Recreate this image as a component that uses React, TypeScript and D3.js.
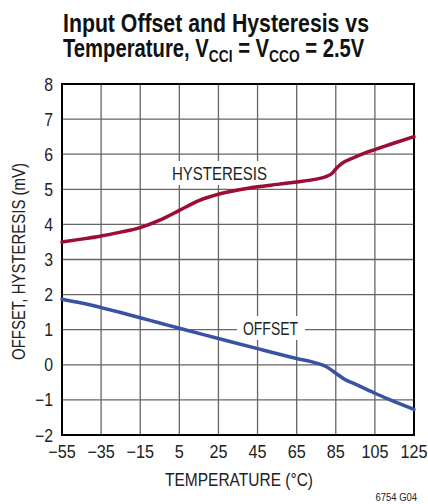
import React from "react";
import * as d3 from "d3";

const xTicks = [-55, -35, -15, 5, 25, 45, 65, 85, 105, 125];
const yTicks = [-2, -1, 0, 1, 2, 3, 4, 5, 6, 7, 8];

const hystTemps = [-55, -45, -35, -25, -15, -5, 5, 15, 25, 35, 45, 55, 65, 75, 80, 83, 85, 88, 95, 100, 105, 115, 125];
const hystValues = [3.5, 3.58, 3.67, 3.78, 3.91, 4.12, 4.4, 4.68, 4.86, 4.98, 5.07, 5.14, 5.21, 5.29, 5.36, 5.45, 5.58, 5.73, 5.92, 6.04, 6.13, 6.32, 6.5];

const offsetTemps = [-55, -45, -35, -25, -15, -5, 5, 25, 45, 65, 75, 80, 85, 90, 95, 105, 115, 125];
const offsetValues = [1.87, 1.76, 1.63, 1.49, 1.34, 1.19, 1.04, 0.75, 0.46, 0.18, 0.05, -0.05, -0.24, -0.43, -0.55, -0.81, -1.05, -1.27];

const FONT = "'Liberation Sans', Arial, sans-serif";

const fmt = (t: number) => (t < 0 ? "\u2212" + Math.abs(t) : String(t));

export default function App() {
  const W = 428, H = 504;
  const left = 62, right = 414, top = 84, bottom = 435;
  const x = d3.scaleLinear().domain([-55, 125]).range([left, right]);
  const y = d3.scaleLinear().domain([-2, 8]).range([bottom, top]);

  const line = d3.line<[number, number]>()
    .x(d => x(d[0]))
    .y(d => y(d[1]))
    .curve(d3.curveMonotoneX);

  const hyst = line(hystTemps.map((t, i) => [t, hystValues[i]] as [number, number])) || "";
  const offs = line(offsetTemps.map((t, i) => [t, offsetValues[i]] as [number, number])) || "";

  const textColor = "#222";

  return (
    <svg width={W} height={H} style={{ position: "absolute", left: 0, top: 0, background: "#fff" }}>
      <rect x={0} y={0} width={W} height={H} fill="#fff" />
      {/* Title */}
      <text x={63} y={32} fontFamily={FONT} fontWeight="bold" fontSize={25} fill="#111"
        textLength={306} lengthAdjust="spacingAndGlyphs">Input Offset and Hysteresis vs</text>
      <g transform="translate(63,57) scale(0.81,1)">
        <text x={0} y={0} fontFamily={FONT} fontWeight="bold" fontSize={25} fill="#111">
          <tspan>Temperature, V</tspan>
          <tspan fontSize={17} dy={5}>CCI</tspan>
          <tspan dy={-5}> = V</tspan>
          <tspan fontSize={17} dy={5}>CCO</tspan>
          <tspan dy={-5}> = 2.5V</tspan>
        </text>
      </g>

      {/* Grid */}
      {xTicks.map(t => (
        <line key={"gx" + t} x1={x(t)} x2={x(t)} y1={top} y2={bottom} stroke="#666" strokeWidth={1.3} />
      ))}
      {yTicks.map(t => (
        <line key={"gy" + t} x1={left} x2={right} y1={y(t)} y2={y(t)} stroke="#666" strokeWidth={1.3} />
      ))}
      <rect x={left} y={top} width={right - left} height={bottom - top} fill="none" stroke="#000" strokeWidth={2} />

      {/* Series labels with white backgrounds */}
      <rect x={166} y={161} width={106} height={24} fill="#fff" />
      <text x={172} y={180} fontFamily={FONT} fontSize={19} fill={textColor}
        textLength={95} lengthAdjust="spacingAndGlyphs">HYSTERESIS</text>
      <rect x={237} y={316} width={68} height={24} fill="#fff" />
      <text x={243} y={335} fontFamily={FONT} fontSize={19} fill={textColor}
        textLength={55} lengthAdjust="spacingAndGlyphs">OFFSET</text>

      {/* Lines */}
      <path d={hyst} fill="none" stroke="#9b0d35" strokeWidth={3.5} strokeLinejoin="round" strokeLinecap="round" />
      <path d={offs} fill="none" stroke="#3a52a3" strokeWidth={3.5} strokeLinejoin="round" strokeLinecap="round" />

      {/* Y tick labels */}
      {yTicks.map(t => (
        <g key={"yl" + t} transform={`translate(53,${y(t) + 6.5}) scale(0.88,1)`}>
          <text x={0} y={0} textAnchor="end" fontFamily={FONT} fontSize={18} fill={textColor}>{fmt(t)}</text>
        </g>
      ))}
      {/* X tick labels */}
      {xTicks.map(t => (
        <g key={"xl" + t} transform={`translate(${x(t)},458) scale(0.9,1)`}>
          <text x={0} y={0} textAnchor="middle" fontFamily={FONT} fontSize={18} fill={textColor}>{fmt(t)}</text>
        </g>
      ))}

      {/* Axis titles */}
      <text x={165} y={486} fontFamily={FONT} fontSize={18.5} fill={textColor}
        textLength={148} lengthAdjust="spacingAndGlyphs">TEMPERATURE (°C)</text>
      <text transform={`translate(25, 360) rotate(-90)`} x={0} y={0} fontFamily={FONT} fontSize={18} fill={textColor}
        textLength={197} lengthAdjust="spacingAndGlyphs">
        OFFSET, HYSTERESIS (mV)
      </text>

      <g transform="translate(417,501) scale(0.9,1)">
        <text x={0} y={0} textAnchor="end" fontFamily={FONT} fontSize={10.5} fill={textColor}>6754 G04</text>
      </g>
    </svg>
  );
}
